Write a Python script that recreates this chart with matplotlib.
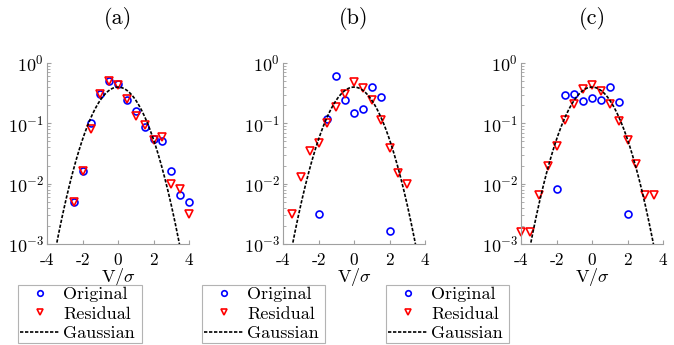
import numpy as np
import matplotlib
matplotlib.use("Agg")
import matplotlib.pyplot as plt

plt.rcParams['font.family'] = ['cmr10', 'DejaVu Serif']
plt.rcParams['mathtext.fontset'] = 'cm'
plt.rcParams['axes.unicode_minus'] = False
plt.rcParams['axes.formatter.use_mathtext'] = True

# 数据
a_orig_x = [-2.5, -2, -1.5, -1, -0.5, 0, 0.5, 1, 1.5, 2, 2.5, 3, 3.5, 4]
a_orig_y = [0.0049, 0.0163, 0.100, 0.304, 0.50, 0.445, 0.242, 0.159, 0.088, 0.056, 0.050, 0.0163, 0.0065, 0.0049]
a_res_x = [-2.5, -2, -1.5, -1, -0.5, 0, 0.5, 1, 1.5, 2, 2.5, 3, 3.5, 4]
a_res_y = [0.0049, 0.0163, 0.082, 0.31, 0.50, 0.44, 0.25, 0.133, 0.094, 0.053, 0.060, 0.0098, 0.0082, 0.0032]

b_orig_x = [-2, -1.5, -1, -0.5, 0, 0.5, 1, 1.5, 2]
b_orig_y = [0.0032, 0.12, 0.60, 0.24, 0.151, 0.176, 0.407, 0.275, 0.00164]
b_res_x = [-3.5, -3, -2.5, -2, -1.5, -1, -0.5, 0, 0.5, 1, 1.5, 2, 2.5, 3]
b_res_y = [0.0032, 0.0131, 0.035, 0.048, 0.102, 0.19, 0.31, 0.48, 0.39, 0.24, 0.113, 0.039, 0.0149, 0.0098]

c_orig_x = [-2, -1.5, -1, -0.5, 0, 0.5, 1, 1.5, 2]
c_orig_y = [0.0083, 0.29, 0.31, 0.233, 0.26, 0.242, 0.40, 0.227, 0.0032]
c_res_x = [-4, -3.5, -3, -2.5, -2, -1.5, -1, -0.5, 0, 0.5, 1, 1.5, 2, 2.5, 3, 3.5]
c_res_y = [0.0016, 0.0016, 0.0065, 0.0197, 0.042, 0.112, 0.21, 0.377, 0.44, 0.34, 0.21, 0.109, 0.053, 0.021, 0.0065, 0.0065]

panel_titles = ["(a)", "(b)", "(c)"]
xtick_vals = [-4, -2, 0, 2, 4]
xtick_labels = ["-4", "-2", "0", "2", "4"]
legend_labels = ["Original", "Residual", "Gaussian"]

panels = [
    (a_orig_x, a_orig_y, a_res_x, a_res_y),
    (b_orig_x, b_orig_y, b_res_x, b_res_y),
    (c_orig_x, c_orig_y, c_res_x, c_res_y),
]

# 高斯曲线
xg = np.linspace(-4, 4, 400)
yg = np.exp(-xg ** 2 / 2) / np.sqrt(2 * np.pi)

W, H = 674, 345
fig = plt.figure(figsize=(W / 100, H / 100), dpi=100)

ax_lefts = [47, 283, 521]
ax_w, ax_top, ax_bot = 142, 63, 244
leg_boxes = [(18, 142), (202, 325), (386, 509)]
leg_top, leg_bot = 285, 344

spine_col = '#a0a0a0'

for k, (ox, oy, rx, ry) in enumerate(panels):
    l = ax_lefts[k]
    ax = fig.add_axes([l / W, 1 - ax_bot / H, ax_w / W, (ax_bot - ax_top) / H])
    ax.set_yscale('log')
    ax.set_xlim(-4, 4)
    ax.set_ylim(1e-3, 1)

    h1, = ax.plot(ox, oy, 'o', mfc='none', mec='blue', ms=5, mew=1.2, ls='none', clip_on=False)
    h2, = ax.plot(rx, ry, 'v', mfc='none', mec='red', ms=5.5, mew=1.2, ls='none', clip_on=False)
    h3, = ax.plot(xg, yg, color='black', ls=(0, (2, 1)), lw=1.2)

    ax.spines['top'].set_visible(False)
    ax.spines['right'].set_visible(False)
    for s in ['left', 'bottom']:
        ax.spines[s].set_color(spine_col)
        ax.spines[s].set_linewidth(0.8)

    ax.set_xticks(xtick_vals)
    ax.set_xticklabels(xtick_labels)
    ax.set_yticks([1e-3, 1e-2, 1e-1, 1e0])
    ax.tick_params(which='both', direction='in', color=spine_col)
    ax.tick_params(axis='x', pad=6, labelsize=12.5)
    ax.tick_params(axis='y', pad=2, labelsize=13)
    ax.tick_params(which='major', length=3)
    ax.tick_params(which='minor', length=2)

    ax.set_xlabel(r"V/$\sigma$", fontsize=13, labelpad=-1)
    ax.text(0.5, 1.0 + 45 / 181, panel_titles[k], transform=ax.transAxes,
            ha='center', va='center', fontsize=16)

    bx0, bx1 = leg_boxes[k]
    x0 = (bx0 - l) / ax_w
    w = (bx1 - bx0) / ax_w
    y1 = (ax_bot - leg_top) / (ax_bot - ax_top)
    hh = (leg_bot - leg_top) / (ax_bot - ax_top)
    leg = ax.legend([h1, h2, h3], legend_labels, loc='upper left',
                    bbox_to_anchor=(x0, y1 - hh, w, hh), mode='expand',
                    frameon=True, fancybox=False, fontsize=13,
                    handlelength=2.2, handletextpad=0.2, borderpad=0.1,
                    labelspacing=0.2, borderaxespad=0, markerscale=0.8)
    leg.get_frame().set_edgecolor(spine_col)
    leg.get_frame().set_linewidth(0.8)

fig.savefig("out.png", dpi=100)
